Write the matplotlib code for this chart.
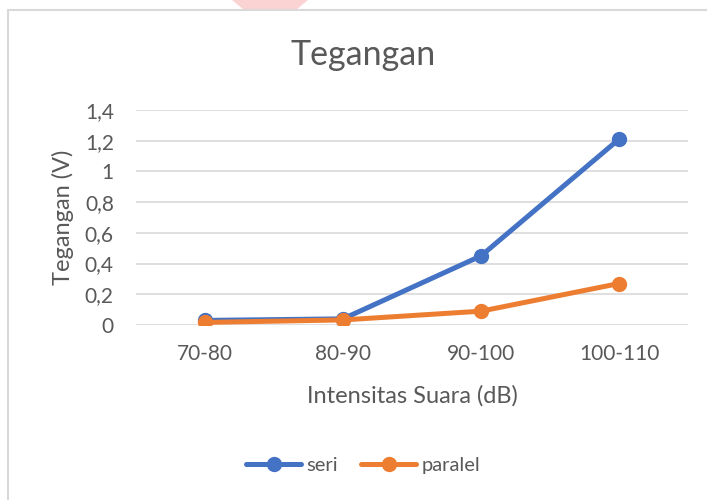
import matplotlib
matplotlib.use("Agg")
import matplotlib.pyplot as plt
from matplotlib.patches import Rectangle, Polygon
from matplotlib.ticker import FuncFormatter

categories = ["70-80", "80-90", "90-100", "100-110"]
seri = [0.03, 0.04, 0.45, 1.21]
paralel = [0.017, 0.033, 0.09, 0.27]
yticks = [0, 0.2, 0.4, 0.6, 0.8, 1.0, 1.2, 1.4]

blue = "#4472C4"
orange = "#ED7D31"
txt = "#595959"
grid = "#D9D9D9"
W, H = 707, 500

plt.rcParams['font.family'] = ['Lato', 'DejaVu Sans']

fig = plt.figure(figsize=(W / 100, H / 100), dpi=100)
fig.patch.set_facecolor("white")

# watermark fragment at the top and chart border
fig.patches.append(Polygon([(232/W, 1.0), (308/W, 1.0), (296/W, 1 - 10/H), (244/W, 1 - 10/H)],
                           closed=True, transform=fig.transFigure, facecolor="#FBD3D3", edgecolor="none", zorder=0))
fig.patches.append(Rectangle((8/W, -0.1), 1.0, 1 - 10/H + 0.1, transform=fig.transFigure,
                             facecolor="none", edgecolor=grid, lw=1.5, zorder=1))

ax = fig.add_axes([136/W, 1 - 325/H, (688 - 136)/W, (325 - 110)/H])
x = range(len(categories))
ax.plot(x, seri, color=blue, lw=3.6, marker="o", ms=10, label="seri", solid_capstyle="round", zorder=3)
ax.plot(x, paralel, color=orange, lw=3.6, marker="o", ms=10, label="paralel", solid_capstyle="round", zorder=4)

ax.set_xlim(-0.5, len(categories) - 0.5)
ax.set_ylim(0, 1.4)
ax.set_yticks(yticks)
ax.yaxis.set_major_formatter(FuncFormatter(lambda v, p: "{:g}".format(round(v, 2)).replace(".", ",")))
ax.set_xticks(list(x))
ax.set_xticklabels(categories)
ax.grid(axis="y", color=grid, lw=1.2)
ax.set_axisbelow(True)
for s in ax.spines.values():
    s.set_visible(False)
ax.tick_params(length=0, labelsize=15, colors=txt)
ax.tick_params(axis="x", pad=14)
ax.tick_params(axis="y", pad=16)

fig.text(363/W, 1 - 55/H, "Tegangan", fontsize=24.5, color=txt, ha="center", va="center")
fig.text(412/W, 1 - 396/H, "Intensitas Suara (dB)", fontsize=17, color=txt, ha="center", va="center")
fig.text(63/W, 1 - 217/H, "Tegangan (V)", fontsize=17, color=txt, ha="center", va="center", rotation=90)

leg = fig.legend(loc="center", bbox_to_anchor=(363/W, 1 - 465/H), ncol=2, frameon=False,
                 fontsize=14.5, handlelength=2.75, columnspacing=1.15, handletextpad=0.25)
for t in leg.get_texts():
    t.set_color(txt)

fig.savefig("out.png", dpi=100)
